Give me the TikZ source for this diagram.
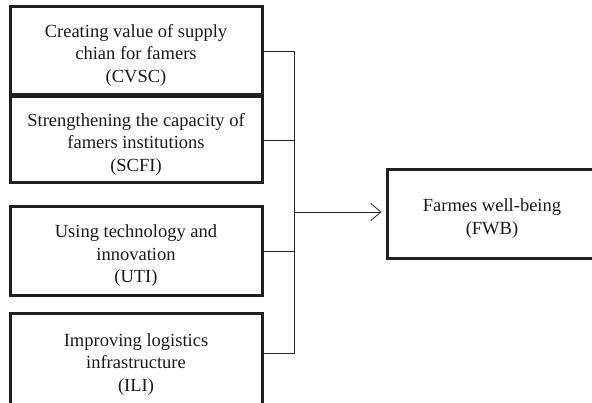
\documentclass[tikz,border=0pt]{standalone}
\usepackage{fontspec}
\setmainfont{Liberation Serif}
\usepackage{tikz}
\usetikzlibrary{calc}
\usetikzlibrary{arrows.meta}

\newcommand{\hstrut}{\rule{0pt}{21pt}}

\tikzset{
  factor/.style={draw=black!88, line width=3pt, minimum width=252pt, align=center,
    inner sep=0pt, font=\fontsize{18.5}{22.5}\selectfont, text=black!90},
  link/.style={draw=black!85, line width=0.8pt},
}

\begin{document}
\begin{tikzpicture}[x=1pt,y=1pt]

\useasboundingbox (0,0) rectangle (592,402);

\node[factor, minimum height=88pt] (cvsc) at (136,351) {\hstrut Creating value of supply\\chian for famers\\(CVSC)};
\node[factor, minimum height=86pt] (scfi) at (136,262) {\hstrut Strengthening the capacity of\\famers institutions\\(SCFI)};
\node[factor, minimum height=89pt] (uti) at (136,150.5) {\hstrut Using technology and\\innovation\\(UTI)};
\node[factor, minimum height=92pt] (ili) at (136,42) {\hstrut Improving logistics\\infrastructure\\(ILI)};

\node[factor, minimum width=210pt, minimum height=89pt] (fwb) at (492,187.5) {\hstrut Farmes well-being\\(FWB)};

\coordinate (jn) at (294,190);
\coordinate (ililink) at ($(ili.east)+(0,7)$);

\draw[link] (cvsc.east) -| (jn |- ililink) -- (ililink);
\draw[link] (scfi.east) -- (scfi.east -| jn);
\draw[link] (uti.east) -- (uti.east -| jn);
\draw[link, -{Straight Barb[length=10pt,width=17pt]}, shorten >=4pt] (jn) -- (jn -| fwb.west);

\end{tikzpicture}
\end{document}
